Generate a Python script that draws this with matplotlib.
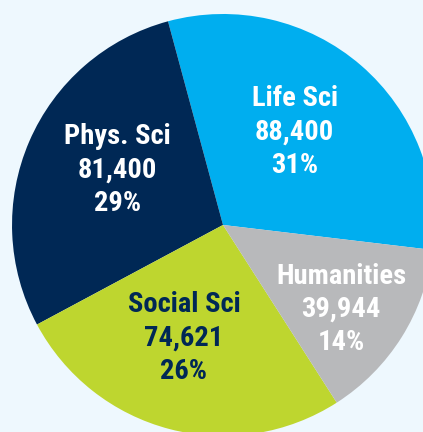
import matplotlib.pyplot as plt
from matplotlib import font_manager as fm

names = ['Life Sci', 'Phys. Sci', 'Social Sci', 'Humanities']
counts = [88400, 81400, 74621, 39944]
pcts = ['31%', '29%', '26%', '14%']
colors = ['#00AEEF', '#002855', '#BED62F', '#B8B9BB']
txt_colors = ['white', 'white', '#002855', 'white']

# label centres (data coords, pie radius = 1)
lab_xy = [(0.34, 0.44), (-0.50, 0.26), (-0.185, -0.535), (0.56, -0.40)]

avail = {f.name for f in fm.fontManager.ttflist}
fam = 'DejaVu Sans'
for f in ['Roboto Condensed', 'Archivo Narrow', 'PT Sans Narrow']:
    if f in avail:
        fam = f
        break

bg = '#EEF8FE'
fig = plt.figure(figsize=(4.23, 4.32), dpi=100, facecolor=bg)
ax = fig.add_axes([0, 0, 1, 1])
ax.set_facecolor(bg)
ax.pie(counts, colors=colors, startangle=-6.8, counterclock=True, radius=1.0,
       wedgeprops=dict(linewidth=0))
ax.set_xlim(-1.057, 0.948)
ax.set_ylim(-0.981, 1.066)
ax.set_aspect('equal')
ax.axis('off')

for i in range(len(names)):
    s = '{}\n{:,}\n{}'.format(names[i], counts[i], pcts[i])
    ax.text(lab_xy[i][0], lab_xy[i][1], s, ha='center', va='center',
            color=txt_colors[i], fontsize=20.5, fontweight='bold',
            family=fam, linespacing=1.3)

fig.savefig('out.png', dpi=100, facecolor=bg)
